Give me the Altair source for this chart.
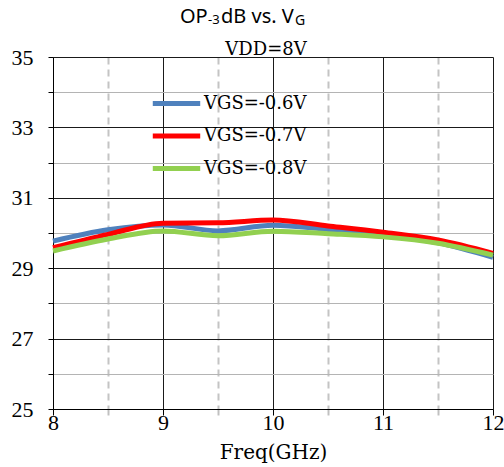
import altair as alt
import pandas as pd

# ---- data ----
freq = [8, 8.5, 9, 9.5, 10, 10.5, 11, 11.5, 12]
series_names = ["VGS=-0.6V", "VGS=-0.7V", "VGS=-0.8V"]
vgs_06 = [29.77, 30.09, 30.23, 30.06, 30.22, 30.10, 29.96, 29.72, 29.31]
vgs_07 = [29.58, 29.96, 30.28, 30.29, 30.37, 30.20, 30.02, 29.80, 29.42]
vgs_08 = [29.49, 29.83, 30.06, 29.92, 30.05, 29.98, 29.89, 29.71, 29.37]
colors = ["#4F81BD", "#FF0000", "#92D050"]

x_ticks = [8, 8.5, 9, 9.5, 10, 10.5, 11, 11.5, 12]
y_ticks = [25, 26, 27, 28, 29, 30, 31, 32, 33, 34, 35]

title_parts = ["OP", "-3", "dB vs. V", "G"]
subtitle_text = "VDD=8V"
x_title = "Freq(GHz)"

rows = []
for name, vals in zip(series_names, [vgs_06, vgs_07, vgs_08]):
    for f, v in zip(freq, vals):
        rows.append({"freq": f, "op": v, "series": name})
df = pd.DataFrame(rows)

half = "datum.value % 1 != 0"
even = "datum.value % 2 == 0"

lines = alt.Chart(df).mark_line(strokeWidth=5, interpolate="monotone").encode(
    x=alt.X(
        "freq:Q",
        scale=alt.Scale(domain=[8, 12], nice=False, zero=False),
        axis=alt.Axis(
            values=x_ticks,
            title=x_title,
            titleFont="DejaVu Serif",
            titleFontSize=20,
            titleFontWeight="normal",
            titleColor="#000",
            titleBaseline="alphabetic",
            titleY=49,
            labelExpr="datum.value % 1 == 0 ? format(datum.value, 'd') : ''",
            labelFont="Liberation Serif",
            labelFontSize=22,
            labelColor="#000",
            labelBaseline="top",
            labelPadding=-3,
            labelFlush=False,
            labelOverlap=False,
            tickSize=6,
            tickColor={"condition": {"test": half, "value": "#c0c0c0"}, "value": "#000"},
            tickWidth={"condition": {"test": half, "value": 2}, "value": 1},
            domainColor="#000",
            grid=True,
            gridColor={"condition": {"test": half, "value": "#c4c4c4"}, "value": "#1a1a1a"},
            gridDash={"condition": {"test": half, "value": [7, 5]}, "value": []},
            gridWidth={"condition": {"test": half, "value": 2}, "value": 1},
            gridOpacity=1,
        ),
    ),
    y=alt.Y(
        "op:Q",
        scale=alt.Scale(domain=[25, 35], nice=False, zero=False),
        axis=alt.Axis(
            values=y_ticks,
            title=None,
            labelExpr="datum.value % 2 == 1 ? datum.label : ''",
            labelFont="Liberation Serif",
            labelFontSize=22,
            labelColor="#000",
            labelPadding=15,
            tickSize=5,
            tickColor="#000",
            domainColor="#000",
            grid=True,
            gridColor={"condition": {"test": even, "value": "#b4b4b4"}, "value": "#1a1a1a"},
            gridWidth=1,
            gridOpacity=1,
        ),
    ),
    color=alt.Color(
        "series:N",
        scale=alt.Scale(domain=series_names, range=colors),
        legend=alt.Legend(
            orient="none",
            legendX=105,
            legendY=28,
            title=None,
            symbolType="M-1.5,0H1.5",
            symbolSize=1000,
            symbolStrokeWidth=5,
            labelFont="DejaVu Serif",
            labelFontSize=18,
            labelColor="#000",
            labelOffset=9,
            rowPadding=3.5,
            padding=0,
        ),
    ),
)


def text_piece(txt, x, y, font, size):
    return alt.Chart(pd.DataFrame({"t": [txt]})).mark_text(
        font=font, fontSize=size, align="left", baseline="alphabetic", color="#000"
    ).encode(x=alt.value(x), y=alt.value(y), text="t:N")


title_layers = [
    text_piece(title_parts[0], 127, -34, "Noto Sans", 20),
    text_piece(title_parts[1], 155, -33, "Noto Sans", 13),
    text_piece(title_parts[2], 168, -34, "Noto Sans", 20),
    text_piece(title_parts[3], 242, -32, "Noto Sans", 14),
    alt.Chart(pd.DataFrame({"t": [subtitle_text]})).mark_text(
        font="DejaVu Serif", fontSize=18, align="center", baseline="alphabetic", color="#000"
    ).encode(x=alt.value(213), y=alt.value(-2), text="t:N"),
]

chart = alt.layer(lines, *title_layers).properties(
    width=440,
    height=352,
    autosize=alt.AutoSizeParams(type="none"),
    padding={"left": 53, "top": 57, "right": 11, "bottom": 58},
    background="white",
).configure_view(stroke=None)

chart.save("out.html", embed_options={"renderer": "svg", "actions": False})
